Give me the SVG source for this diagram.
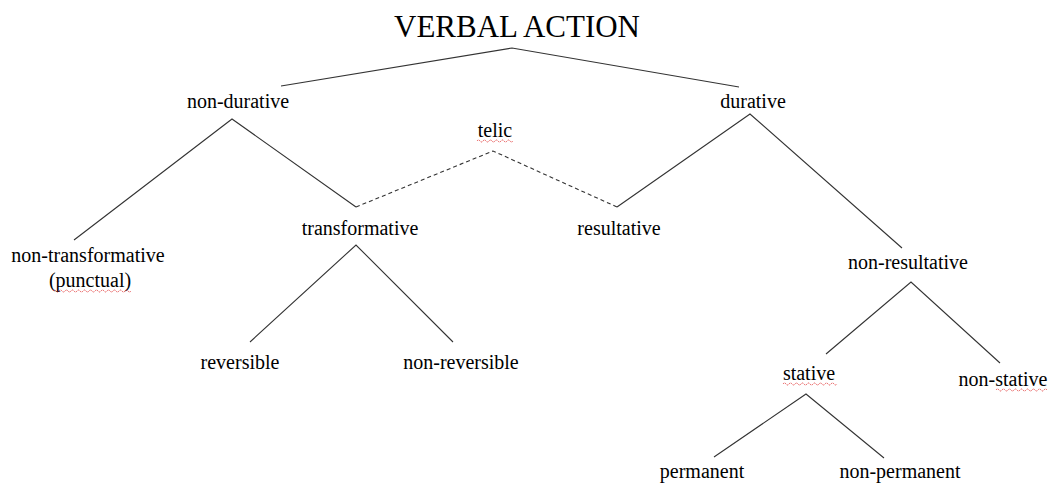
<svg xmlns="http://www.w3.org/2000/svg" width="1048" height="483" viewBox="0 0 1048 483">
<style>
.t{font-family:"Liberation Serif","Times New Roman",serif;font-size:20px;fill:#000;text-anchor:middle}
.h{font-size:31px}
.l{stroke:#333;stroke-width:1.1;fill:none}
.d{stroke:#333;stroke-width:1.1;fill:none;stroke-dasharray:4,3}
.w{stroke:#e03030;stroke-width:0.8;fill:none;stroke-dasharray:1.5,0.8}
</style>
<rect width="1048" height="483" fill="#fff"/>
<g id="connectors">
<polyline class="l" points="281,86 512,48 739,87"/>
<polyline class="l" points="74,240 232,119 356,207"/>
<polyline class="d" points="356,207 493,151 617,207"/>
<polyline class="l" points="617,207 750,114 902,248"/>
<polyline class="l" points="250,342 356,245 453,342"/>
<polyline class="l" points="826,354 911,282 1000,363"/>
<polyline class="l" points="714,457 806,394 884,458"/>
</g>
<g id="verbal-action"><text class="t h" x="517" y="37">VERBAL ACTION</text></g>
<g id="non-durative"><text class="t" x="238" y="108">non-durative</text></g>
<g id="durative"><text class="t" x="753" y="108">durative</text></g>
<g id="telic"><text class="t" x="495" y="137">telic</text><path class="w" d="M477,141 q1.5,-2 3,0 t3,0 t3,0 t3,0 t3,0 t3,0 t3,0 t3,0 t3,0 t3,0 t3,0 t3,0"/></g>
<g id="non-transformative"><text class="t" x="88" y="262">non-transformative</text><text class="t" x="90" y="287">(punctual)</text><path class="w" d="M53,291 q1.5,-2 3,0 t3,0 t3,0 t3,0 t3,0 t3,0 t3,0 t3,0 t3,0 t3,0 t3,0 t3,0 t3,0 t3,0 t3,0 t3,0 t3,0 t3,0 t3,0 t3,0 t3,0 t3,0 t3,0 t3,0 t3,0 t3,0"/></g>
<g id="transformative"><text class="t" x="360" y="235">transformative</text></g>
<g id="resultative"><text class="t" x="619" y="235">resultative</text></g>
<g id="non-resultative"><text class="t" x="908" y="269">non-resultative</text></g>
<g id="reversible"><text class="t" x="240" y="369">reversible</text></g>
<g id="non-reversible"><text class="t" x="461" y="369">non-reversible</text></g>
<g id="stative"><text class="t" x="809" y="380">stative</text><path class="w" d="M783,384 q1.5,-2 3,0 t3,0 t3,0 t3,0 t3,0 t3,0 t3,0 t3,0 t3,0 t3,0 t3,0 t3,0 t3,0 t3,0 t3,0 t3,0 t3,0 t3,0"/></g>
<g id="non-stative"><text class="t" x="1003" y="386">non-stative</text><path class="w" d="M996,390 q1.5,-2 3,0 t3,0 t3,0 t3,0 t3,0 t3,0 t3,0 t3,0 t3,0 t3,0 t3,0 t3,0 t3,0 t3,0 t3,0 t3,0 t3,0"/></g>
<g id="permanent"><text class="t" x="702" y="478">permanent</text></g>
<g id="non-permanent"><text class="t" x="900" y="478">non-permanent</text></g>
</svg>
